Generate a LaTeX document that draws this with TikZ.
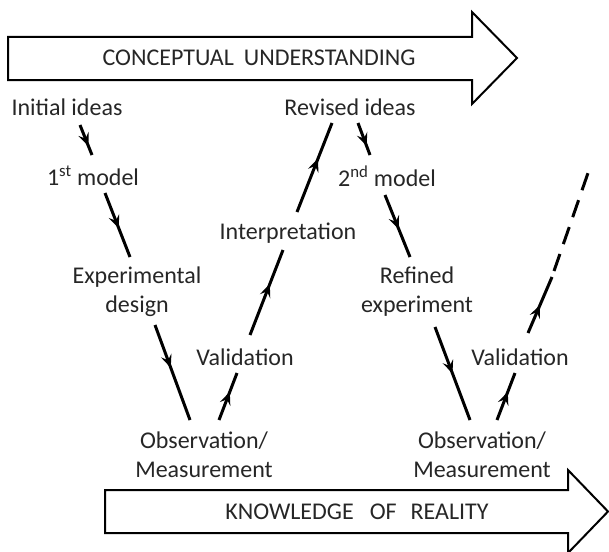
\documentclass[tikz,border=0pt]{standalone}
\usepackage{fontspec}
\setmainfont{Carlito}
\usetikzlibrary{calc, arrows.meta, decorations.markings}

\tikzset{
  stage/.style={font=\fontsize{24}{29}\selectfont, text=black!85, align=center, inner sep=0pt},
  bandtext/.style={font=\fontsize{24}{28}\selectfont, text=black!85, inner sep=0pt},
  band/.style={line width=2pt, line join=miter},
  flow/.style={line width=3pt, postaction={decorate},
    decoration={markings, mark=at position #1 with {\arrow{Stealth[length=13pt,width=11pt,inset=5pt]}}}},
  flow/.default=0.6,
}

\begin{document}
\begin{tikzpicture}[x=1pt, y=-1pt]
  \useasboundingbox (0,0) rectangle (609,551);

  % Big block arrows
  \draw[band] (8,37) -- (472,37) -- (472,12) -- (517,58) -- (472,104) -- (472,80) -- (8,80) -- cycle;
  \draw[band] (105,490) -- (568,490) -- (568,470) -- (608,511.5) -- (568,553) -- (568,533) -- (105,533) -- cycle;
  \node[bandtext] (cu) at (259,58) {CONCEPTUAL\hspace{10pt}UNDERSTANDING};
  \node[bandtext] (kr) at (357,512) {KNOWLEDGE\hspace{16pt}OF\hspace{14pt}REALITY};

  % First cycle
  \node[stage] (init) at (67,107) {Initial ideas};
  \node[stage] (m1) at (93,176) {1\textsuperscript{st} model};
  \node[stage] (exp) at (137,292) {Experimental\\design};
  \node[stage] (obs1) at (204,455) {Observation/\\Measurement};
  \node[stage] (val1) at (245,357) {Validation};
  \node[stage] (interp) at (288,233) {Interpretation};

  % Second cycle
  \node[stage] (rev) at (350,107) {Revised ideas};
  \node[stage] (m2) at (387,176) {2\textsuperscript{nd} model};
  \node[stage] (ref) at (417,292) {Refined\\experiment};
  \node[stage] (obs2) at (482,455) {Observation/\\Measurement};
  \node[stage] (val2) at (520,357) {Validation};

  % Down the left side of each V
  \draw[flow=0.7] ($(init)+(13,18)$) -- ($(m1)+(-1,-21)$);
  \draw[flow=0.55] ($(m1)+(12,17)$) -- ($(exp)+(-7,-35)$);
  \draw[flow=0.45] ($(exp)+(18,33)$) -- ($(obs1)+(-14,-35)$);
  \draw[flow=0.72] ($(rev)+(8,16)$) -- ($(m2)+(-17,-21)$);
  \draw[flow=0.55] ($(m2)+(-2,19)$) -- ($(ref)+(-7,-35)$);
  \draw[flow=0.5] ($(ref)+(18,35)$) -- ($(obs2)+(-12,-35)$);

  % Up the right side of each V
  \draw[flow=0.6] ($(obs1)+(15,-35)$) -- ($(val1)+(-8,16)$);
  \draw[flow=0.6] ($(val1)+(5,-22)$) -- ($(interp)+(-5,17)$);
  \draw[flow=0.6] ($(interp)+(9,-21)$) -- ($(rev)+(-18,16)$);
  \draw[flow=0.6] ($(obs2)+(15,-35)$) -- ($(val2)+(-5,16)$);

  % Open end of the second cycle
  \coordinate (cont) at ($(val2)+(32,-80)$);
  \coordinate (tail) at ($(val2)+(68,-184)$);
  \draw[flow=0.5] ($(val2)+(8,-24)$) -- (cont);
  \draw[line width=3pt, dash pattern=on 18pt off 10.5pt] ([shift={(2,-6)}]cont) -- (tail);
\end{tikzpicture}
\end{document}
